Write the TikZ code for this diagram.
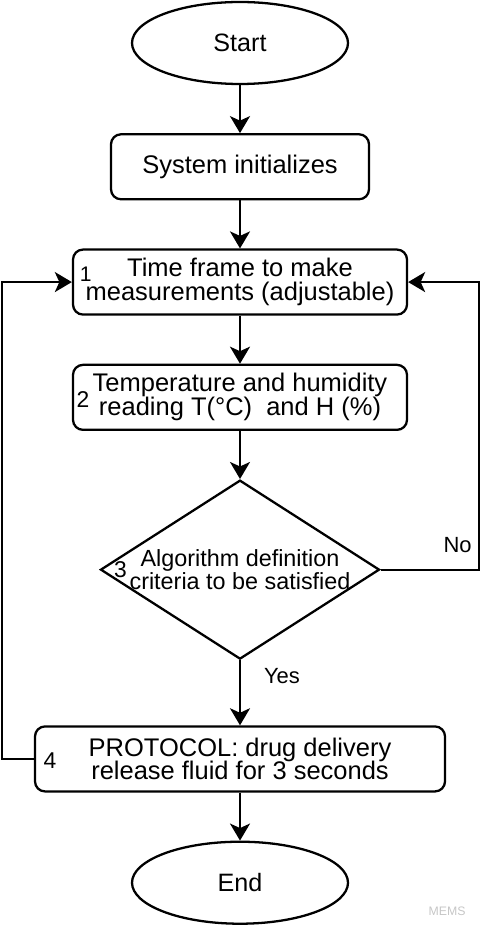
\documentclass[tikz,border=0pt]{standalone}
\usepackage{fontspec}
\setmainfont{Liberation Sans}
\usetikzlibrary{arrows.meta,positioning,shapes.geometric}
\tikzset{
  flowbox/.style={draw, rounded corners=0.2cm, align=center, line width=1.3pt,
    font=\fontsize{14.5}{13.6}\selectfont, minimum height=1.3cm},
  flowterm/.style={draw, ellipse, line width=1.3pt, font=\fontsize{14.3}{14}\selectfont,
    minimum width=4.32cm, minimum height=1.64cm},
  flowdecision/.style={draw, diamond, line width=1.3pt,
    minimum width=5.58cm, minimum height=3.58cm},
  flownum/.style={font=\fontsize{13}{13}\selectfont, inner sep=0pt},
  flowlabel/.style={font=\fontsize{12.5}{12.5}\selectfont},
  flowarrow/.style={-{Stealth[length=0.34cm,width=0.4cm,inset=0.09cm]}, line width=1.3pt}
}
\begin{document}
\begin{tikzpicture}[node distance=0.96cm]
    \useasboundingbox (0,0) rectangle (9.6,-18.54);
    \node[flowterm] (start) at (4.8,-0.86) {Start};
    \node[flowbox, below=of start, minimum width=5.16cm] (init) {System initializes};
    \node[flowbox, below=of init, minimum width=6.68cm] (meas) {Time frame to make\\measurements (adjustable)};
    \node[flowbox, below=of meas, minimum width=6.68cm] (read) {Temperature and humidity\\reading T(°C)\ \ and H (\%)};
    \node[flowdecision, below=of read] (crit) {};
    \node[align=center, font=\fontsize{13.3}{13}\selectfont] (crittext) at (crit) {Algorithm definition\\criteria to be satisfied};
    \node[flowbox, below=1.3cm of crit, minimum width=8.2cm] (proto) {PROTOCOL: drug delivery\\release fluid for 3 seconds};
    \node[flowterm, below=of proto] (end) {End};
    % step numbers
    \node[flownum, font=\fontsize{12}{12}\selectfont] (num1) at ([xshift=0.28cm,yshift=0.15cm]meas.west) {1};
    \node[flownum] (num2) at ([xshift=0.22cm,yshift=-0.04cm]read.west) {2};
    \node[flownum] (num3) at ([xshift=0.42cm]crit.west) {3};
    \node[flownum] (num4) at ([xshift=0.32cm,yshift=-0.04cm]proto.west) {4};
    \draw[flowarrow] (start) -- (init);
    \draw[flowarrow] (init) -- (meas);
    \draw[flowarrow] (meas) -- (read);
    \draw[flowarrow] (read) -- (crit);
    \draw[flowarrow] (crit) -- node[flowlabel, pos=0.25, right=0.34cm] (yes) {Yes} (proto);
    \draw[flowarrow] (proto) -- (end);
    \draw[flowarrow] (crit.east) -- ++(1.96,0) node[flowlabel, anchor=south east, yshift=0.2cm] (no) {No} |- (meas.east);
    \draw[flowarrow] (proto.west) -- ++(-0.64,0) |- (meas.west);
    \node[font=\fontsize{7}{7}\selectfont, text=gray!45] (mark) at (8.94,-18.22) {MEMS};
  \end{tikzpicture}
\end{document}
